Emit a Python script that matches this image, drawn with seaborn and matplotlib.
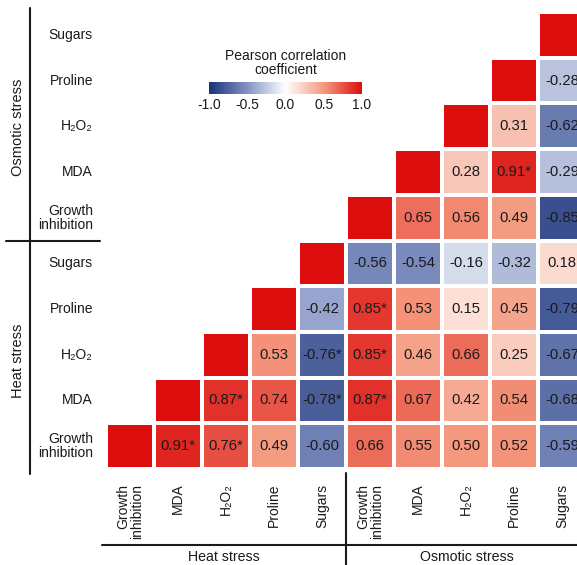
import numpy as np
import pandas as pd
import matplotlib
matplotlib.use("Agg")
import matplotlib.pyplot as plt
import seaborn as sns
from matplotlib.colors import LinearSegmentedColormap
from matplotlib.lines import Line2D

# ---------------------------------------------------------------------------
# Data
# ---------------------------------------------------------------------------
variables = ["Growth\ninhibition", "MDA", "H₂O₂", "Proline", "Sugars"]
conditions = ["Heat stress", "Osmotic stress"]

# Pearson r of each trait with itself and with every trait after it
# (order: heat traits, then osmotic traits)
heat_growth = [1.00, 0.91, 0.76, 0.49, -0.60, 0.66, 0.55, 0.50, 0.52, -0.59]
heat_mda = [1.00, 0.87, 0.74, -0.78, 0.87, 0.67, 0.42, 0.54, -0.68]
heat_h2o2 = [1.00, 0.53, -0.76, 0.85, 0.46, 0.66, 0.25, -0.67]
heat_proline = [1.00, -0.42, 0.85, 0.53, 0.15, 0.45, -0.79]
heat_sugars = [1.00, -0.56, -0.54, -0.16, -0.32, 0.18]
osm_growth = [1.00, 0.65, 0.56, 0.49, -0.85]
osm_mda = [1.00, 0.28, 0.91, -0.29]
osm_h2o2 = [1.00, 0.31, -0.62]
osm_proline = [1.00, -0.28]
osm_sugars = [1.00]

# significant pairs (indices into the heat+osmotic trait order)
significant = [(0, 1), (0, 2), (1, 2), (1, 4), (1, 5), (2, 4), (2, 5), (3, 5), (6, 8)]

cbar_ticks = [-1.0, -0.5, 0.0, 0.5, 1.0]

# ---------------------------------------------------------------------------
# Build the triangular matrix (top row = last trait)
# ---------------------------------------------------------------------------
rows_by_trait = [heat_growth, heat_mda, heat_h2o2, heat_proline, heat_sugars,
                 osm_growth, osm_mda, osm_h2o2, osm_proline, osm_sugars]
n = len(rows_by_trait)
corr = np.full((n, n), np.nan)
labels = np.full((n, n), "", dtype=object)
sig = set(significant)
for k, vals in enumerate(rows_by_trait):
    r = n - 1 - k
    for j, v in enumerate(vals):
        c = k + j
        corr[r, c] = v
        if c != k:
            labels[r, c] = f"{v:.2f}" + ("*" if (k, c) in sig else "")

col_labels = variables + variables
row_labels = (variables + variables)[::-1]
df = pd.DataFrame(corr)

# ---------------------------------------------------------------------------
# Figure
# ---------------------------------------------------------------------------
sns.set_theme(style="white")
plt.rcParams["font.family"] = ["Liberation Sans", "DejaVu Sans"]
ink = "#1a1a1a"

W, H = 577, 565
fig = plt.figure(figsize=(W / 100, H / 100), dpi=100)


def fx(x):
    return x / W


def fy(y):
    return 1 - y / H


ax = fig.add_axes([fx(106), fy(469), 480 / W, 457 / H])
cax = fig.add_axes([fx(209), fy(94), 153 / W, 12 / H])

cmap = LinearSegmentedColormap.from_list(
    "corr",
    [(0.0, "#1b3478"), (0.25, "#8393c3"), (0.5, "#ffffff"),
     (0.75, "#f49a7f"), (1.0, "#dc0d0d")],
)

sns.heatmap(
    df, mask=np.isnan(corr), cmap=cmap, vmin=-1, vmax=1,
    annot=labels, fmt="", annot_kws=dict(fontsize=10.7, color=ink),
    linewidths=1.5, linecolor="white",
    xticklabels=col_labels, yticklabels=row_labels,
    cbar_ax=cax, cbar_kws=dict(orientation="horizontal", ticks=cbar_ticks),
    ax=ax,
)

ax.tick_params(axis="both", length=0)
ax.tick_params(axis="x", pad=10.5, labelsize=10, colors=ink)
ax.tick_params(axis="y", pad=9.4, labelsize=10, colors=ink)
for t in ax.get_xticklabels():
    t.set_rotation(90)
    t.set_ha("center")
    t.set_va("top")
    t.set_multialignment("right")
    t.set_linespacing(1.0)
for t in ax.get_yticklabels():
    t.set_rotation(0)
    t.set_ha("right")
    t.set_va("center")
    t.set_multialignment("right")
    t.set_linespacing(1.0)

# colour bar
cbar = ax.collections[0].colorbar
cbar.outline.set_visible(False)
cax.tick_params(length=0, labelsize=10, pad=3, colors=ink)
cax.set_xticklabels([f"{t:.1f}" for t in cbar_ticks])
cax.set_title("Pearson correlation\ncoefficient", fontsize=10, pad=6,
              linespacing=1.0, color=ink)

# group brackets
line_kw = dict(color=ink, lw=1.5, transform=fig.transFigure)
fig.add_artist(Line2D([fx(30), fx(30)], [fy(8), fy(474)], **line_kw))
fig.add_artist(Line2D([fx(6), fx(100)], [fy(240.5), fy(240.5)], **line_kw))
fig.add_artist(Line2D([fx(102), fx(577)], [fy(545), fy(545)], **line_kw))
fig.add_artist(Line2D([fx(346), fx(346)], [fy(473), fy(565)], **line_kw))

fig.text(fx(18), fy(127.5), conditions[1], rotation=90, ha="center",
         va="center", fontsize=10.5, color=ink)
fig.text(fx(18), fy(361), conditions[0], rotation=90, ha="center",
         va="center", fontsize=10.5, color=ink)
fig.text(fx(224), fy(557), conditions[0], ha="center", va="center",
         fontsize=10.2, color=ink)
fig.text(fx(467), fy(557), conditions[1], ha="center", va="center",
         fontsize=10.2, color=ink)

fig.savefig("out.png", dpi=100)
